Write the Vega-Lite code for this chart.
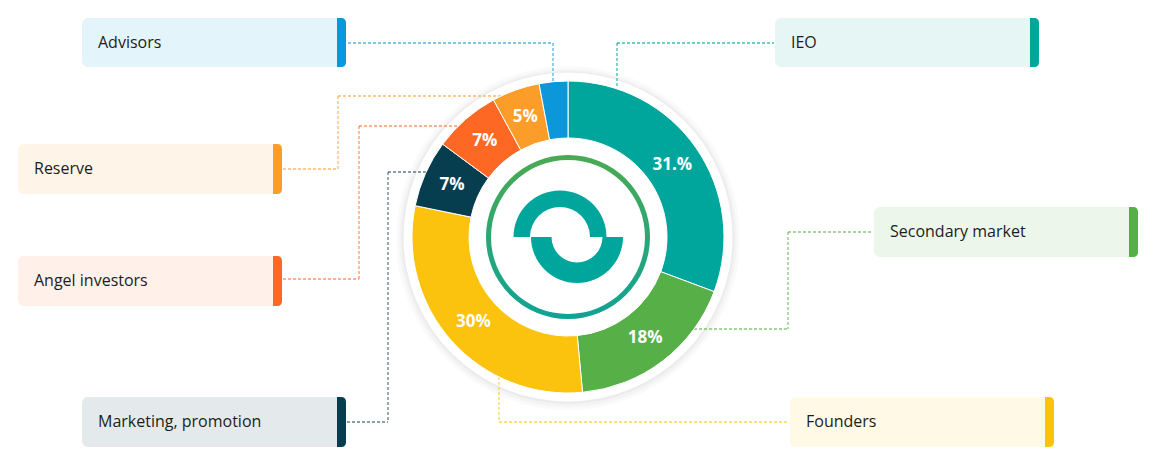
{
  "$schema": "https://vega.github.io/schema/vega-lite/v6.json",
  "width": 1156,
  "height": 465,
  "padding": 0,
  "autosize": {"type": "fit", "contains": "padding"},
  "background": "white",
  "config": {"view": {"stroke": null}},
  "data": {
    "values": [
      {"label": "IEO", "share": 31, "pct": "31.%"},
      {"label": "Secondary market", "share": 18, "pct": "18%"},
      {"label": "Founders", "share": 30, "pct": "30%"},
      {"label": "Marketing, promotion", "share": 7, "pct": "7%"},
      {"label": "Angel investors", "share": 7, "pct": "7%"},
      {"label": "Reserve", "share": 5, "pct": "5%"},
      {"label": "Advisors", "share": 3, "pct": ""}
    ]
  },
  "transform": [{"window": [{"op": "row_number", "as": "idx"}]}],
  "layer": [
    {
      "data": {"values": [{}]},
      "layer": [
        {"mark": {"type": "arc", "theta": 0, "theta2": 6.2832, "innerRadius": 156, "outerRadius": 172, "color": "#000000", "opacity": 0.018},
         "encoding": {"x": {"datum": 568, "type": "quantitative", "scale": {"domain": [0, 1156], "nice": false, "zero": false}, "axis": null},
                      "y": {"datum": 238, "type": "quantitative", "scale": {"domain": [0, 465], "nice": false, "zero": false, "reverse": true}, "axis": null}}},
        {"mark": {"type": "arc", "theta": 0, "theta2": 6.2832, "innerRadius": 156, "outerRadius": 169, "color": "#000000", "opacity": 0.025},
         "encoding": {"x": {"datum": 568, "type": "quantitative", "scale": {"domain": [0, 1156], "nice": false, "zero": false}, "axis": null},
                      "y": {"datum": 238, "type": "quantitative", "scale": {"domain": [0, 465], "nice": false, "zero": false, "reverse": true}, "axis": null}}},
        {"mark": {"type": "arc", "theta": 0, "theta2": 6.2832, "innerRadius": 156, "outerRadius": 166.5, "color": "#000000", "opacity": 0.03},
         "encoding": {"x": {"datum": 568, "type": "quantitative", "scale": {"domain": [0, 1156], "nice": false, "zero": false}, "axis": null},
                      "y": {"datum": 237.5, "type": "quantitative", "scale": {"domain": [0, 465], "nice": false, "zero": false, "reverse": true}, "axis": null}}},
        {"mark": {"type": "arc", "theta": 0, "theta2": 6.2832, "innerRadius": 150, "outerRadius": 164.5, "color": "#ffffff"},
         "encoding": {"x": {"datum": 568, "type": "quantitative", "scale": {"domain": [0, 1156], "nice": false, "zero": false}, "axis": null},
                      "y": {"datum": 237, "type": "quantitative", "scale": {"domain": [0, 465], "nice": false, "zero": false, "reverse": true}, "axis": null}}}
      ]
    },
    {
      "transform": [{"filter": {"field": "label", "equal": "Advisors"}}],
      "encoding": {"color": {"field": "label", "type": "nominal", "legend": null, "scale": {"domain": ["IEO", "Secondary market", "Founders", "Marketing, promotion", "Angel investors", "Reserve", "Advisors"], "range": ["#00a69c", "#57af47", "#fbc30e", "#073e4f", "#fd6925", "#fc9d29", "#0b97da"]}}},
      "layer": [
        {"mark": {"type": "rect", "cornerRadius": 6, "opacity": 0.11},
         "encoding": {"x": {"datum": 82, "type": "quantitative", "scale": {"domain": [0, 1156], "nice": false, "zero": false}, "axis": null}, "x2": {"datum": 346},
                      "y": {"datum": 18, "type": "quantitative", "scale": {"domain": [0, 465], "nice": false, "zero": false, "reverse": true}, "axis": null}, "y2": {"datum": 67}}},
        {"mark": {"type": "rect", "cornerRadiusTopRight": 6, "cornerRadiusBottomRight": 6},
         "encoding": {"x": {"datum": 337, "type": "quantitative", "scale": {"domain": [0, 1156], "nice": false, "zero": false}, "axis": null}, "x2": {"datum": 346},
                      "y": {"datum": 18, "type": "quantitative", "scale": {"domain": [0, 465], "nice": false, "zero": false, "reverse": true}, "axis": null}, "y2": {"datum": 67}}},
        {"mark": {"type": "text", "align": "left", "baseline": "middle", "font": "Open Sans", "fontSize": 16},
         "encoding": {"x": {"datum": 98, "type": "quantitative", "scale": {"domain": [0, 1156], "nice": false, "zero": false}, "axis": null},
                      "y": {"datum": 42.5, "type": "quantitative", "scale": {"domain": [0, 465], "nice": false, "zero": false, "reverse": true}, "axis": null},
                      "text": {"field": "label"}, "color": {"value": "#1d1d1d"}}},
        {"mark": {"type": "rule", "strokeDash": [3, 2], "strokeWidth": 1.3, "opacity": 0.7},
         "encoding": {"x": {"datum": 348, "type": "quantitative", "scale": {"domain": [0, 1156], "nice": false, "zero": false}, "axis": null}, "x2": {"datum": 553},
                      "y": {"datum": 43, "type": "quantitative", "scale": {"domain": [0, 465], "nice": false, "zero": false, "reverse": true}, "axis": null}}},
        {"mark": {"type": "rule", "strokeDash": [3, 2], "strokeWidth": 1.3, "opacity": 0.7},
         "encoding": {"x": {"datum": 553, "type": "quantitative", "scale": {"domain": [0, 1156], "nice": false, "zero": false}, "axis": null},
                      "y": {"datum": 43, "type": "quantitative", "scale": {"domain": [0, 465], "nice": false, "zero": false, "reverse": true}, "axis": null}, "y2": {"datum": 81}}}
      ]
    },
    {
      "transform": [{"filter": {"field": "label", "equal": "IEO"}}],
      "encoding": {"color": {"field": "label", "type": "nominal", "legend": null, "scale": {"domain": ["IEO", "Secondary market", "Founders", "Marketing, promotion", "Angel investors", "Reserve", "Advisors"], "range": ["#00a69c", "#57af47", "#fbc30e", "#073e4f", "#fd6925", "#fc9d29", "#0b97da"]}}},
      "layer": [
        {"mark": {"type": "rect", "cornerRadius": 6, "opacity": 0.1},
         "encoding": {"x": {"datum": 775, "type": "quantitative", "scale": {"domain": [0, 1156], "nice": false, "zero": false}, "axis": null}, "x2": {"datum": 1039},
                      "y": {"datum": 18, "type": "quantitative", "scale": {"domain": [0, 465], "nice": false, "zero": false, "reverse": true}, "axis": null}, "y2": {"datum": 67}}},
        {"mark": {"type": "rect", "cornerRadiusTopRight": 6, "cornerRadiusBottomRight": 6},
         "encoding": {"x": {"datum": 1030, "type": "quantitative", "scale": {"domain": [0, 1156], "nice": false, "zero": false}, "axis": null}, "x2": {"datum": 1039},
                      "y": {"datum": 18, "type": "quantitative", "scale": {"domain": [0, 465], "nice": false, "zero": false, "reverse": true}, "axis": null}, "y2": {"datum": 67}}},
        {"mark": {"type": "text", "align": "left", "baseline": "middle", "font": "Open Sans", "fontSize": 16},
         "encoding": {"x": {"datum": 791, "type": "quantitative", "scale": {"domain": [0, 1156], "nice": false, "zero": false}, "axis": null},
                      "y": {"datum": 42.5, "type": "quantitative", "scale": {"domain": [0, 465], "nice": false, "zero": false, "reverse": true}, "axis": null},
                      "text": {"field": "label"}, "color": {"value": "#1d1d1d"}}},
        {"mark": {"type": "rule", "strokeDash": [3, 2], "strokeWidth": 1.3, "opacity": 0.75},
         "encoding": {"x": {"datum": 617, "type": "quantitative", "scale": {"domain": [0, 1156], "nice": false, "zero": false}, "axis": null}, "x2": {"datum": 774},
                      "y": {"datum": 43, "type": "quantitative", "scale": {"domain": [0, 465], "nice": false, "zero": false, "reverse": true}, "axis": null}}},
        {"mark": {"type": "rule", "strokeDash": [3, 2], "strokeWidth": 1.3, "opacity": 0.75},
         "encoding": {"x": {"datum": 617, "type": "quantitative", "scale": {"domain": [0, 1156], "nice": false, "zero": false}, "axis": null},
                      "y": {"datum": 43, "type": "quantitative", "scale": {"domain": [0, 465], "nice": false, "zero": false, "reverse": true}, "axis": null}, "y2": {"datum": 87}}}
      ]
    },
    {
      "transform": [{"filter": {"field": "label", "equal": "Reserve"}}],
      "encoding": {"color": {"field": "label", "type": "nominal", "legend": null, "scale": {"domain": ["IEO", "Secondary market", "Founders", "Marketing, promotion", "Angel investors", "Reserve", "Advisors"], "range": ["#00a69c", "#57af47", "#fbc30e", "#073e4f", "#fd6925", "#fc9d29", "#0b97da"]}}},
      "layer": [
        {"mark": {"type": "rect", "cornerRadius": 6, "opacity": 0.11},
         "encoding": {"x": {"datum": 18, "type": "quantitative", "scale": {"domain": [0, 1156], "nice": false, "zero": false}, "axis": null}, "x2": {"datum": 282},
                      "y": {"datum": 144, "type": "quantitative", "scale": {"domain": [0, 465], "nice": false, "zero": false, "reverse": true}, "axis": null}, "y2": {"datum": 194}}},
        {"mark": {"type": "rect", "cornerRadiusTopRight": 6, "cornerRadiusBottomRight": 6},
         "encoding": {"x": {"datum": 273, "type": "quantitative", "scale": {"domain": [0, 1156], "nice": false, "zero": false}, "axis": null}, "x2": {"datum": 282},
                      "y": {"datum": 144, "type": "quantitative", "scale": {"domain": [0, 465], "nice": false, "zero": false, "reverse": true}, "axis": null}, "y2": {"datum": 194}}},
        {"mark": {"type": "text", "align": "left", "baseline": "middle", "font": "Open Sans", "fontSize": 16},
         "encoding": {"x": {"datum": 34, "type": "quantitative", "scale": {"domain": [0, 1156], "nice": false, "zero": false}, "axis": null},
                      "y": {"datum": 169, "type": "quantitative", "scale": {"domain": [0, 465], "nice": false, "zero": false, "reverse": true}, "axis": null},
                      "text": {"field": "label"}, "color": {"value": "#1d1d1d"}}},
        {"mark": {"type": "rule", "strokeDash": [3, 2], "strokeWidth": 1.3, "opacity": 0.7},
         "encoding": {"x": {"datum": 283, "type": "quantitative", "scale": {"domain": [0, 1156], "nice": false, "zero": false}, "axis": null}, "x2": {"datum": 338},
                      "y": {"datum": 169, "type": "quantitative", "scale": {"domain": [0, 465], "nice": false, "zero": false, "reverse": true}, "axis": null}}},
        {"mark": {"type": "rule", "strokeDash": [3, 2], "strokeWidth": 1.3, "opacity": 0.7},
         "encoding": {"x": {"datum": 338, "type": "quantitative", "scale": {"domain": [0, 1156], "nice": false, "zero": false}, "axis": null},
                      "y": {"datum": 96, "type": "quantitative", "scale": {"domain": [0, 465], "nice": false, "zero": false, "reverse": true}, "axis": null}, "y2": {"datum": 169}}},
        {"mark": {"type": "rule", "strokeDash": [3, 2], "strokeWidth": 1.3, "opacity": 0.7},
         "encoding": {"x": {"datum": 338, "type": "quantitative", "scale": {"domain": [0, 1156], "nice": false, "zero": false}, "axis": null}, "x2": {"datum": 502},
                      "y": {"datum": 96, "type": "quantitative", "scale": {"domain": [0, 465], "nice": false, "zero": false, "reverse": true}, "axis": null}}}
      ]
    },
    {
      "transform": [{"filter": {"field": "label", "equal": "Angel investors"}}],
      "encoding": {"color": {"field": "label", "type": "nominal", "legend": null, "scale": {"domain": ["IEO", "Secondary market", "Founders", "Marketing, promotion", "Angel investors", "Reserve", "Advisors"], "range": ["#00a69c", "#57af47", "#fbc30e", "#073e4f", "#fd6925", "#fc9d29", "#0b97da"]}}},
      "layer": [
        {"mark": {"type": "rect", "cornerRadius": 6, "opacity": 0.1},
         "encoding": {"x": {"datum": 18, "type": "quantitative", "scale": {"domain": [0, 1156], "nice": false, "zero": false}, "axis": null}, "x2": {"datum": 282},
                      "y": {"datum": 256, "type": "quantitative", "scale": {"domain": [0, 465], "nice": false, "zero": false, "reverse": true}, "axis": null}, "y2": {"datum": 306}}},
        {"mark": {"type": "rect", "cornerRadiusTopRight": 6, "cornerRadiusBottomRight": 6},
         "encoding": {"x": {"datum": 273, "type": "quantitative", "scale": {"domain": [0, 1156], "nice": false, "zero": false}, "axis": null}, "x2": {"datum": 282},
                      "y": {"datum": 256, "type": "quantitative", "scale": {"domain": [0, 465], "nice": false, "zero": false, "reverse": true}, "axis": null}, "y2": {"datum": 306}}},
        {"mark": {"type": "text", "align": "left", "baseline": "middle", "font": "Open Sans", "fontSize": 16},
         "encoding": {"x": {"datum": 34, "type": "quantitative", "scale": {"domain": [0, 1156], "nice": false, "zero": false}, "axis": null},
                      "y": {"datum": 281, "type": "quantitative", "scale": {"domain": [0, 465], "nice": false, "zero": false, "reverse": true}, "axis": null},
                      "text": {"field": "label"}, "color": {"value": "#1d1d1d"}}},
        {"mark": {"type": "rule", "strokeDash": [3, 2], "strokeWidth": 1.3, "opacity": 0.7},
         "encoding": {"x": {"datum": 283, "type": "quantitative", "scale": {"domain": [0, 1156], "nice": false, "zero": false}, "axis": null}, "x2": {"datum": 359},
                      "y": {"datum": 279, "type": "quantitative", "scale": {"domain": [0, 465], "nice": false, "zero": false, "reverse": true}, "axis": null}}},
        {"mark": {"type": "rule", "strokeDash": [3, 2], "strokeWidth": 1.3, "opacity": 0.7},
         "encoding": {"x": {"datum": 359, "type": "quantitative", "scale": {"domain": [0, 1156], "nice": false, "zero": false}, "axis": null},
                      "y": {"datum": 126, "type": "quantitative", "scale": {"domain": [0, 465], "nice": false, "zero": false, "reverse": true}, "axis": null}, "y2": {"datum": 279}}},
        {"mark": {"type": "rule", "strokeDash": [3, 2], "strokeWidth": 1.3, "opacity": 0.7},
         "encoding": {"x": {"datum": 359, "type": "quantitative", "scale": {"domain": [0, 1156], "nice": false, "zero": false}, "axis": null}, "x2": {"datum": 459},
                      "y": {"datum": 126, "type": "quantitative", "scale": {"domain": [0, 465], "nice": false, "zero": false, "reverse": true}, "axis": null}}}
      ]
    },
    {
      "transform": [{"filter": {"field": "label", "equal": "Marketing, promotion"}}],
      "encoding": {"color": {"field": "label", "type": "nominal", "legend": null, "scale": {"domain": ["IEO", "Secondary market", "Founders", "Marketing, promotion", "Angel investors", "Reserve", "Advisors"], "range": ["#00a69c", "#57af47", "#fbc30e", "#073e4f", "#fd6925", "#fc9d29", "#0b97da"]}}},
      "layer": [
        {"mark": {"type": "rect", "cornerRadius": 6, "opacity": 0.11},
         "encoding": {"x": {"datum": 82, "type": "quantitative", "scale": {"domain": [0, 1156], "nice": false, "zero": false}, "axis": null}, "x2": {"datum": 346},
                      "y": {"datum": 397, "type": "quantitative", "scale": {"domain": [0, 465], "nice": false, "zero": false, "reverse": true}, "axis": null}, "y2": {"datum": 447}}},
        {"mark": {"type": "rect", "cornerRadiusTopRight": 6, "cornerRadiusBottomRight": 6},
         "encoding": {"x": {"datum": 337, "type": "quantitative", "scale": {"domain": [0, 1156], "nice": false, "zero": false}, "axis": null}, "x2": {"datum": 346},
                      "y": {"datum": 397, "type": "quantitative", "scale": {"domain": [0, 465], "nice": false, "zero": false, "reverse": true}, "axis": null}, "y2": {"datum": 447}}},
        {"mark": {"type": "text", "align": "left", "baseline": "middle", "font": "Open Sans", "fontSize": 16},
         "encoding": {"x": {"datum": 98, "type": "quantitative", "scale": {"domain": [0, 1156], "nice": false, "zero": false}, "axis": null},
                      "y": {"datum": 422, "type": "quantitative", "scale": {"domain": [0, 465], "nice": false, "zero": false, "reverse": true}, "axis": null},
                      "text": {"field": "label"}, "color": {"value": "#1d1d1d"}}},
        {"mark": {"type": "rule", "strokeDash": [3, 2], "strokeWidth": 1.3, "opacity": 0.65},
         "encoding": {"x": {"datum": 347, "type": "quantitative", "scale": {"domain": [0, 1156], "nice": false, "zero": false}, "axis": null}, "x2": {"datum": 388},
                      "y": {"datum": 422, "type": "quantitative", "scale": {"domain": [0, 465], "nice": false, "zero": false, "reverse": true}, "axis": null}}},
        {"mark": {"type": "rule", "strokeDash": [3, 2], "strokeWidth": 1.3, "opacity": 0.65},
         "encoding": {"x": {"datum": 388, "type": "quantitative", "scale": {"domain": [0, 1156], "nice": false, "zero": false}, "axis": null},
                      "y": {"datum": 172, "type": "quantitative", "scale": {"domain": [0, 465], "nice": false, "zero": false, "reverse": true}, "axis": null}, "y2": {"datum": 422}}},
        {"mark": {"type": "rule", "strokeDash": [3, 2], "strokeWidth": 1.3, "opacity": 0.65},
         "encoding": {"x": {"datum": 388, "type": "quantitative", "scale": {"domain": [0, 1156], "nice": false, "zero": false}, "axis": null}, "x2": {"datum": 427},
                      "y": {"datum": 172, "type": "quantitative", "scale": {"domain": [0, 465], "nice": false, "zero": false, "reverse": true}, "axis": null}}}
      ]
    },
    {
      "transform": [{"filter": {"field": "label", "equal": "Secondary market"}}],
      "encoding": {"color": {"field": "label", "type": "nominal", "legend": null, "scale": {"domain": ["IEO", "Secondary market", "Founders", "Marketing, promotion", "Angel investors", "Reserve", "Advisors"], "range": ["#00a69c", "#57af47", "#fbc30e", "#073e4f", "#fd6925", "#fc9d29", "#0b97da"]}}},
      "layer": [
        {"mark": {"type": "rect", "cornerRadius": 6, "opacity": 0.11},
         "encoding": {"x": {"datum": 874, "type": "quantitative", "scale": {"domain": [0, 1156], "nice": false, "zero": false}, "axis": null}, "x2": {"datum": 1138},
                      "y": {"datum": 207, "type": "quantitative", "scale": {"domain": [0, 465], "nice": false, "zero": false, "reverse": true}, "axis": null}, "y2": {"datum": 257}}},
        {"mark": {"type": "rect", "cornerRadiusTopRight": 6, "cornerRadiusBottomRight": 6},
         "encoding": {"x": {"datum": 1129, "type": "quantitative", "scale": {"domain": [0, 1156], "nice": false, "zero": false}, "axis": null}, "x2": {"datum": 1138},
                      "y": {"datum": 207, "type": "quantitative", "scale": {"domain": [0, 465], "nice": false, "zero": false, "reverse": true}, "axis": null}, "y2": {"datum": 257}}},
        {"mark": {"type": "text", "align": "left", "baseline": "middle", "font": "Open Sans", "fontSize": 16},
         "encoding": {"x": {"datum": 890, "type": "quantitative", "scale": {"domain": [0, 1156], "nice": false, "zero": false}, "axis": null},
                      "y": {"datum": 232, "type": "quantitative", "scale": {"domain": [0, 465], "nice": false, "zero": false, "reverse": true}, "axis": null},
                      "text": {"field": "label"}, "color": {"value": "#1d1d1d"}}},
        {"mark": {"type": "rule", "strokeDash": [3, 2], "strokeWidth": 1.3, "opacity": 0.7},
         "encoding": {"x": {"datum": 788, "type": "quantitative", "scale": {"domain": [0, 1156], "nice": false, "zero": false}, "axis": null}, "x2": {"datum": 873},
                      "y": {"datum": 232, "type": "quantitative", "scale": {"domain": [0, 465], "nice": false, "zero": false, "reverse": true}, "axis": null}}},
        {"mark": {"type": "rule", "strokeDash": [3, 2], "strokeWidth": 1.3, "opacity": 0.7},
         "encoding": {"x": {"datum": 788, "type": "quantitative", "scale": {"domain": [0, 1156], "nice": false, "zero": false}, "axis": null},
                      "y": {"datum": 232, "type": "quantitative", "scale": {"domain": [0, 465], "nice": false, "zero": false, "reverse": true}, "axis": null}, "y2": {"datum": 329}}},
        {"mark": {"type": "rule", "strokeDash": [3, 2], "strokeWidth": 1.3, "opacity": 0.7},
         "encoding": {"x": {"datum": 694, "type": "quantitative", "scale": {"domain": [0, 1156], "nice": false, "zero": false}, "axis": null}, "x2": {"datum": 788},
                      "y": {"datum": 329, "type": "quantitative", "scale": {"domain": [0, 465], "nice": false, "zero": false, "reverse": true}, "axis": null}}}
      ]
    },
    {
      "transform": [{"filter": {"field": "label", "equal": "Founders"}}],
      "encoding": {"color": {"field": "label", "type": "nominal", "legend": null, "scale": {"domain": ["IEO", "Secondary market", "Founders", "Marketing, promotion", "Angel investors", "Reserve", "Advisors"], "range": ["#00a69c", "#57af47", "#fbc30e", "#073e4f", "#fd6925", "#fc9d29", "#0b97da"]}}},
      "layer": [
        {"mark": {"type": "rect", "cornerRadius": 6, "opacity": 0.1},
         "encoding": {"x": {"datum": 790, "type": "quantitative", "scale": {"domain": [0, 1156], "nice": false, "zero": false}, "axis": null}, "x2": {"datum": 1054},
                      "y": {"datum": 397, "type": "quantitative", "scale": {"domain": [0, 465], "nice": false, "zero": false, "reverse": true}, "axis": null}, "y2": {"datum": 447}}},
        {"mark": {"type": "rect", "cornerRadiusTopRight": 6, "cornerRadiusBottomRight": 6},
         "encoding": {"x": {"datum": 1045, "type": "quantitative", "scale": {"domain": [0, 1156], "nice": false, "zero": false}, "axis": null}, "x2": {"datum": 1054},
                      "y": {"datum": 397, "type": "quantitative", "scale": {"domain": [0, 465], "nice": false, "zero": false, "reverse": true}, "axis": null}, "y2": {"datum": 447}}},
        {"mark": {"type": "text", "align": "left", "baseline": "middle", "font": "Open Sans", "fontSize": 16},
         "encoding": {"x": {"datum": 806, "type": "quantitative", "scale": {"domain": [0, 1156], "nice": false, "zero": false}, "axis": null},
                      "y": {"datum": 422, "type": "quantitative", "scale": {"domain": [0, 465], "nice": false, "zero": false, "reverse": true}, "axis": null},
                      "text": {"field": "label"}, "color": {"value": "#1d1d1d"}}},
        {"mark": {"type": "rule", "strokeDash": [3, 2], "strokeWidth": 1.3, "opacity": 0.7},
         "encoding": {"x": {"datum": 499, "type": "quantitative", "scale": {"domain": [0, 1156], "nice": false, "zero": false}, "axis": null},
                      "y": {"datum": 377, "type": "quantitative", "scale": {"domain": [0, 465], "nice": false, "zero": false, "reverse": true}, "axis": null}, "y2": {"datum": 422}}},
        {"mark": {"type": "rule", "strokeDash": [3, 2], "strokeWidth": 1.3, "opacity": 0.7},
         "encoding": {"x": {"datum": 499, "type": "quantitative", "scale": {"domain": [0, 1156], "nice": false, "zero": false}, "axis": null}, "x2": {"datum": 789},
                      "y": {"datum": 422, "type": "quantitative", "scale": {"domain": [0, 465], "nice": false, "zero": false, "reverse": true}, "axis": null}}}
      ]
    },
    {
      "mark": {"type": "arc", "innerRadius": 99, "outerRadius": 156, "stroke": "#ffffff", "strokeWidth": 1},
      "encoding": {
        "theta": {"field": "share", "type": "quantitative", "stack": true},
        "order": {"field": "idx", "type": "quantitative"},
        "color": {"field": "label", "type": "nominal", "legend": null, "scale": {"domain": ["IEO", "Secondary market", "Founders", "Marketing, promotion", "Angel investors", "Reserve", "Advisors"], "range": ["#00a69c", "#57af47", "#fbc30e", "#073e4f", "#fd6925", "#fc9d29", "#0b97da"]}},
        "x": {"datum": 568, "type": "quantitative", "scale": {"domain": [0, 1156], "nice": false, "zero": false}, "axis": null},
        "y": {"datum": 237, "type": "quantitative", "scale": {"domain": [0, 465], "nice": false, "zero": false, "reverse": true}, "axis": null}
      }
    },
    {
      "mark": {"type": "text", "radius": 127, "font": "Open Sans", "fontSize": 17, "fontWeight": "bold", "color": "#ffffff"},
      "encoding": {
        "theta": {"field": "share", "type": "quantitative", "stack": true},
        "order": {"field": "idx", "type": "quantitative"},
        "text": {"field": "pct"},
        "x": {"datum": 568, "type": "quantitative", "scale": {"domain": [0, 1156], "nice": false, "zero": false}, "axis": null},
        "y": {"datum": 237, "type": "quantitative", "scale": {"domain": [0, 465], "nice": false, "zero": false, "reverse": true}, "axis": null}
      }
    },
    {
      "data": {"values": [{}]},
      "layer": [
        {"mark": {"type": "arc", "theta": 0, "theta2": 6.2832, "innerRadius": 77, "outerRadius": 82,
                  "color": {"gradient": "linear", "x1": 0, "y1": 0, "x2": 0, "y2": 1, "stops": [{"offset": 0, "color": "#4aaa52"}, {"offset": 1, "color": "#0ea395"}]}},
         "encoding": {"x": {"datum": 568, "type": "quantitative", "scale": {"domain": [0, 1156], "nice": false, "zero": false}, "axis": null},
                      "y": {"datum": 237, "type": "quantitative", "scale": {"domain": [0, 465], "nice": false, "zero": false, "reverse": true}, "axis": null}}},
        {"mark": {"type": "arc", "theta": -1.5708, "theta2": 1.5708, "innerRadius": 30, "outerRadius": 46.5, "color": "#00a69c"},
         "encoding": {"x": {"datum": 560, "type": "quantitative", "scale": {"domain": [0, 1156], "nice": false, "zero": false}, "axis": null},
                      "y": {"datum": 237, "type": "quantitative", "scale": {"domain": [0, 465], "nice": false, "zero": false, "reverse": true}, "axis": null}}},
        {"mark": {"type": "arc", "theta": 1.5708, "theta2": 4.7124, "innerRadius": 25.5, "outerRadius": 46, "color": "#00a69c"},
         "encoding": {"x": {"datum": 577, "type": "quantitative", "scale": {"domain": [0, 1156], "nice": false, "zero": false}, "axis": null},
                      "y": {"datum": 237, "type": "quantitative", "scale": {"domain": [0, 465], "nice": false, "zero": false, "reverse": true}, "axis": null}}}
      ]
    }
  ]
}
